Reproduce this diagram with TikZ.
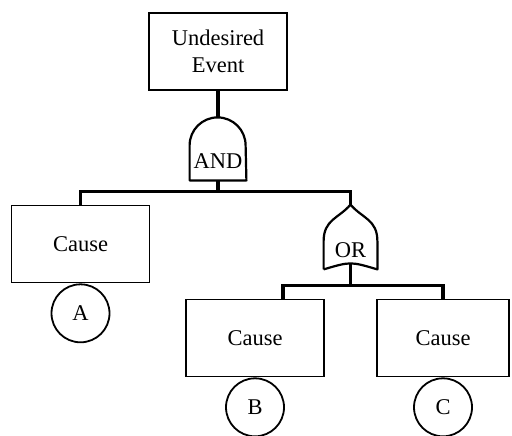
\documentclass[tikz,border=0pt]{standalone}
\usepackage{fontspec}
\setmainfont{Liberation Serif}
\usetikzlibrary{positioning,calc}

\begin{document}
\begin{tikzpicture}[x=0.5pt,y=-0.5pt,
    font=\fontsize{11.25}{13.5}\selectfont,
    event/.style={draw,line width=0.9pt,minimum width=69pt,minimum height=38.5pt,inner sep=0pt,align=center},
    basic/.style={draw,circle,line width=0.9pt,minimum size=29pt,inner sep=0pt},
    gate/.style={inner sep=0pt,anchor=base},
    conn/.style={line width=1.8pt},
    outline/.style={line width=1.1pt,line join=round}]
  \useasboundingbox (0,0) rectangle (512,435);

  % events
  \node[event] (top) at (218,51.5) {Undesired\\Event};
  \node[event] (causeA) at (80.5,244) {Cause};
  \node[event] (causeB) at (255,338) {Cause};
  \node[event,minimum width=66pt] (causeC) at (443,338) {Cause};

  % basic events
  \node[basic,below=0pt of causeA] (bA) {A};
  \node[basic,below=0pt of causeB] (bB) {B};
  \node[basic,below=0pt of causeC] (bC) {C};

  % gates
  \node[gate,minimum width=28pt,text height=25.5pt,text depth=6pt] (gAND) at (218,168) {AND};
  \draw[outline] (gAND.south west) -- ++(0,17.5pt)
    arc[start angle=180,end angle=0,radius=14pt] -- (gAND.south east) -- cycle;

  \node[gate,minimum width=26.5pt,text height=26pt,text depth=6pt] (gOR) at (350.5,257) {OR};
  \draw[outline] (gOR.south west) -- ++(0,14pt)
    .. controls +(0,11pt) and +(-6pt,-7pt) .. (gOR.north)
    .. controls +(6pt,-7pt) and +(0,11pt) .. ($(gOR.south east)+(0,14pt)$)
    -- (gOR.south east)
    .. controls ($(gOR.south)+(0,4pt)$) .. (gOR.south west);

  % connectors
  \coordinate (j1) at ($(gAND.south)+(0,-5.5pt)$);
  \coordinate (j2) at ($(gOR.south)+(0,-8pt)$);
  \draw[conn] (top.south) -- (gAND.north);
  \draw[conn] (gAND.south) -- (j1);
  \draw[conn] (causeA.north) |- (j1) -| (gOR.north);
  \draw[conn] ($(gOR.south)+(0,3pt)$) -- (j2);
  \draw[conn] ([xshift=14pt]causeB.north) |- (j2) -| (causeC.north);
\end{tikzpicture}
\end{document}
